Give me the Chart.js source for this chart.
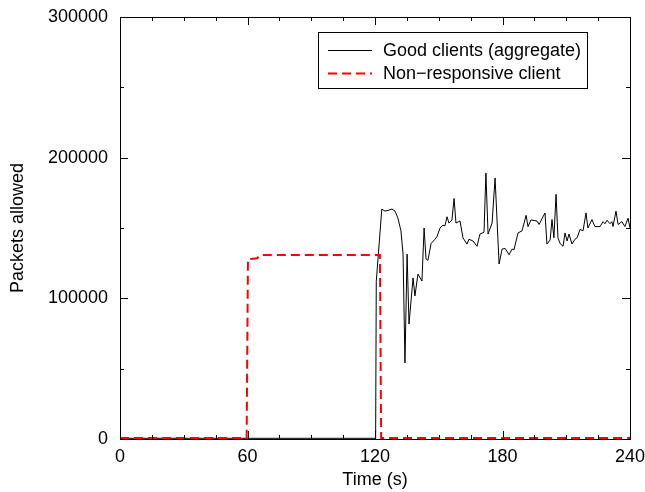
<!DOCTYPE html>
<html>
<head>
<meta charset="utf-8">
<script src="https://cdn.jsdelivr.net/npm/chart.js@4"></script>
<style>
  body { margin: 0; background: #fff; }
  canvas { display: block; }
</style>
</head>
<body>
<canvas id="packetsChart" width="645" height="492"></canvas>
<script>
// Series (time in s, packets allowed)
const goodT = [0, 119.5, 120.3, 120.6, 123.2, 124.7, 126.1, 128.0, 129.4, 130.8, 132.2, 133.2, 134.1, 135.1, 136.0, 137.9, 138.8, 140.2, 142.1, 143.1,
  144.0, 144.9, 146.4, 148.2, 149.2, 150.6, 152.0, 152.9, 153.9, 154.8, 156.2, 157.2, 158.1, 160.0, 161.4, 163.3, 164.2, 166.1, 168.0, 169.4,
  171.3, 172.2, 173.2, 175.1, 176.5, 178.4, 179.8, 181.2, 183.1, 184.5, 185.4, 187.3, 189.2, 191.1, 192.0, 193.4, 196.2, 197.2, 200.0, 200.9,
  202.4, 203.3, 204.2, 205.2, 206.1, 207.1, 208.5, 209.4, 210.4, 211.3, 212.7, 214.1, 215.1, 216.5, 217.9, 219.3, 220.2, 222.1, 223.5, 225.9,
  227.3, 228.2, 229.2, 230.6, 231.5, 232.0, 233.4, 234.4, 236.2, 237.6, 239.1, 240];
const goodV = [500, 500, 500, 112000, 163500, 162000, 162500, 163500, 162000, 157000, 148000, 131500, 54000, 131500, 81700, 114500, 101700, 117300, 112300, 150000,
  128000, 127000, 139000, 142000, 144000, 150000, 152000, 151500, 158000, 153500, 155700, 171000, 153500, 155000, 143000, 138600, 142000, 140800, 137000, 145700,
  147000, 189000, 145700, 153500, 185600, 124400, 135000, 135500, 131000, 135000, 134500, 146500, 148000, 159000, 151000, 155700, 155000, 152500, 160700, 138600,
  141500, 156000, 143000, 174000, 143000, 139000, 137000, 146500, 140800, 145700, 138600, 142000, 143000, 149000, 148000, 160700, 150000, 156000, 151000, 151000,
  154500, 153000, 155500, 153000, 154500, 151000, 162000, 152500, 154500, 151000, 157000, 150000];

const badT = [0, 59.6, 60.2, 61.5, 64.5, 66, 122.3, 122.9, 240];
const badV = [700, 700, 128000, 128000, 128500, 130800, 130800, 700, 700];

const xTicks = [0, 60, 120, 180, 240];
const yTicks = [0, 100000, 200000, 300000];
const seriesLabels = ['Good clients (aggregate)', 'Non\u2212responsive client'];

const toPoints = (ts, vs) => ts.map((t, i) => ({ x: t, y: vs[i] }));

Chart.defaults.font.family = '"Liberation Sans", Arial, sans-serif';
Chart.defaults.font.size = 18;
Chart.defaults.color = '#000';

// no extra room for overhanging labels: layout padding alone places the plot
const noPad = s => { s.paddingTop = 0; s.paddingBottom = 0; s.paddingLeft = 0; s.paddingRight = 0; };

// frame, inward ticks (major + minor, mirrored) and boxed legend, gnuplot style
const framePlugin = {
  id: 'frame',
  afterDraw(chart) {
    const { ctx, chartArea: a, scales: { x, y } } = chart;
    ctx.save();
    ctx.strokeStyle = '#000';
    ctx.lineWidth = 1;
    ctx.strokeRect(Math.round(a.left) + 0.5, Math.round(a.top) + 0.5, Math.round(a.right - a.left), Math.round(a.bottom - a.top));

    ctx.beginPath();
    for (let v = 0; v <= 240; v += 15) {
      const px = Math.round(x.getPixelForValue(v)) + 0.5;
      const len = v % 60 === 0 ? 8 : 4;
      ctx.moveTo(px, a.bottom); ctx.lineTo(px, a.bottom - len);
      ctx.moveTo(px, a.top); ctx.lineTo(px, a.top + len);
    }
    for (let v = 0; v <= 300000; v += 50000) {
      const py = Math.round(y.getPixelForValue(v)) + 0.5;
      const len = v % 100000 === 0 ? 8 : 4;
      ctx.moveTo(a.left, py); ctx.lineTo(a.left + len, py);
      ctx.moveTo(a.right, py); ctx.lineTo(a.right - len, py);
    }
    ctx.stroke();

    // legend box
    const bx = 318.5, by = 32.5, bw = 269, bh = 56;
    ctx.fillStyle = '#fff';
    ctx.fillRect(bx, by, bw, bh);
    ctx.strokeRect(bx, by, bw, bh);
    ctx.font = '18px "Liberation Sans", Arial, sans-serif';
    ctx.textBaseline = 'middle';
    ctx.fillStyle = '#000';
    chart.data.datasets.slice().sort((p, q) => p.legendIndex - q.legendIndex).forEach((ds, i) => {
      const ly = 50 + i * 23;
      ctx.save();
      ctx.strokeStyle = ds.borderColor;
      ctx.lineWidth = ds.borderWidth;
      ctx.setLineDash(ds.borderDash || []);
      ctx.beginPath();
      ctx.moveTo(328, ly + 0.5); ctx.lineTo(372, ly + 0.5);
      ctx.stroke();
      ctx.restore();
      ctx.fillText(ds.label, 383, ly + 1);
    });
    ctx.restore();
  }
};

new Chart(document.getElementById('packetsChart'), {
  type: 'line',
  data: {
    datasets: [{
      label: seriesLabels[1],
      legendIndex: 1,
      order: 0,
      data: toPoints(badT, badV),
      borderColor: '#ff0000',
      borderWidth: 2,
      borderDash: [9, 5],
      pointRadius: 0,
      tension: 0
    }, {
      label: seriesLabels[0],
      legendIndex: 0,
      order: 1,
      data: toPoints(goodT, goodV),
      borderColor: '#000',
      borderWidth: 1,
      pointRadius: 0,
      tension: 0
    }]
  },
  options: {
    responsive: false,
    animation: false,
    devicePixelRatio: 1,
    layout: { padding: { top: 17, right: 15, left: 0, bottom: 0 } },
    plugins: { legend: { display: false }, tooltip: { enabled: false } },
    scales: {
      x: {
        type: 'linear',
        min: 0,
        max: 240,
        afterBuildTicks: s => { s.ticks = xTicks.map(v => ({ value: v })); },
        afterFit: s => { s.height = 53; noPad(s); },
        grid: { display: false, drawTicks: false },
        border: { display: false },
        ticks: { padding: 7, maxRotation: 0, callback: v => String(v) },
        title: { display: true, text: 'Time (s)', padding: { top: 0, bottom: 1 } }
      },
      y: {
        min: 0,
        max: 300000,
        afterBuildTicks: s => { s.ticks = yTicks.map(v => ({ value: v })); },
        afterFit: s => { s.width = 120; noPad(s); },
        grid: { display: false, drawTicks: false },
        border: { display: false },
        ticks: { padding: 12, callback: v => String(v) },
        title: { display: true, text: 'Packets allowed', padding: { top: 7, bottom: 0 } }
      }
    }
  },
  plugins: [framePlugin]
});
</script>
</body>
</html>
